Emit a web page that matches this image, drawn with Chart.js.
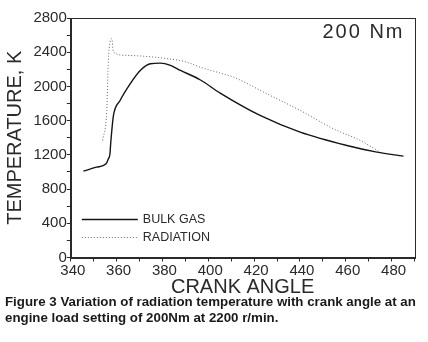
<!DOCTYPE html>
<html>
<head>
<meta charset="utf-8">
<script src="https://cdn.jsdelivr.net/npm/chart.js@4/dist/chart.umd.min.js"></script>
<style>
  html, body { margin: 0; padding: 0; background: #fff; }
  #wrap { position: relative; width: 428px; height: 342px; overflow: hidden; }
  #c { position: absolute; left: 0; top: 0; }
  #cap { position: absolute; left: 5px; top: 294px; width: 423px;
         font-family: "Liberation Sans", Arial, sans-serif; font-weight: bold;
         font-size: 13.3px; line-height: 16px; color: #1a1a1a; white-space: nowrap; }
</style>
</head>
<body>
<div id="wrap">
  <canvas id="c" width="428" height="342"></canvas>
  <div id="cap">Figure 3 Variation of radiation temperature with crank angle at an<br>engine load setting of 200Nm at 2200 r/min.</div>
</div>
<script>
// Data
const bulkAngle = [345.5, 351.2, 355.4, 356.4, 357.1, 357.4, 357.9, 358.6, 361.5, 365.9, 370.3, 374.7, 379.1, 383.5, 387.9, 396.4, 405.2, 422.6, 440.1, 460.5, 473.6, 485.2];
const bulkTemp  = [1009, 1056, 1096, 1154, 1213, 1330, 1485, 1660, 1836, 2031, 2187, 2265, 2273, 2246, 2187, 2078, 1922, 1661, 1466, 1310, 1232, 1185];
const radAngle  = [353.9, 355.7, 356.4, 357.9, 358.6, 364.4, 379.0, 390.6, 396.4, 405.2, 411.0, 425.5, 440.1, 454.6, 466.3, 475.0];
const radTemp   = [1368, 1719, 2304, 2558, 2401, 2363, 2335, 2284, 2226, 2156, 2109, 1915, 1719, 1505, 1368, 1232];
const seriesNames = ['BULK GAS', 'RADIATION'];
const annotationText = '200 Nm';

const toPts = (xs, ys) => xs.map((x, i) => ({ x: x, y: ys[i] }));
const INK = '#2a2a2a';
const FONT = '"Liberation Sans", Arial, sans-serif';

const frame = {
  id: 'frame',
  afterDraw(chart) {
    const { ctx, chartArea: a } = chart;
    ctx.save();
    ctx.strokeStyle = INK;
    ctx.lineWidth = 1;
    ctx.strokeRect(Math.round(a.left) + 0.5, Math.round(a.top) + 0.5,
                   Math.round(a.right - a.left), Math.round(a.bottom - a.top));
    // annotation
    ctx.fillStyle = INK;
    ctx.font = '20px ' + FONT;
    ctx.textAlign = 'right';
    ctx.textBaseline = 'middle';
    ctx.letterSpacing = '2px';
    ctx.fillText(annotationText, a.right - 10, a.top + 14);
    ctx.letterSpacing = '0px';
    // legend
    const ds = chart.data.datasets;
    const x0 = a.left + 11, x1 = a.left + 67;
    const ys = [219, 237];
    ctx.font = '12.5px ' + FONT;
    ctx.textAlign = 'left';
    ds.forEach((d, i) => {
      ctx.beginPath();
      ctx.setLineDash(d.borderDash || []);
      ctx.strokeStyle = d.borderColor;
      ctx.lineWidth = d.borderWidth;
      ctx.moveTo(x0, ys[i] + 0.5);
      ctx.lineTo(x1, ys[i] + 0.5);
      ctx.stroke();
      ctx.setLineDash([]);
      ctx.fillStyle = INK;
      ctx.fillText(d.label, x1 + 5, ys[i] + 0.5);
    });
    ctx.restore();
  }
};

new Chart(document.getElementById('c'), {
  type: 'line',
  data: {
    datasets: [
      { label: seriesNames[0], data: toPts(bulkAngle, bulkTemp), borderColor: '#151515', borderWidth: 1.4,
        pointRadius: 0, cubicInterpolationMode: 'monotone', fill: false },
      { label: seriesNames[1], data: toPts(radAngle, radTemp), borderColor: '#666', borderWidth: 1,
        borderDash: [1, 2], pointRadius: 0, cubicInterpolationMode: 'monotone', fill: false }
    ]
  },
  options: {
    responsive: false,
    animation: false,
    devicePixelRatio: 1,
    layout: { padding: { left: 0, top: 18, right: 13.5, bottom: 43 } },
    plugins: { legend: { display: false }, tooltip: { enabled: false } },
    scales: {
      x: {
        type: 'linear', min: 340, max: 490,
        afterFit: s => { s.height = 41.5; },
        ticks: { stepSize: 10, autoSkip: false, maxRotation: 0, padding: 0, color: INK,
                 font: { family: FONT, size: 15 }, labelOffset: 2,
                 callback: v => (v % 20 === 0 && v < 490) ? String(v) : '' },
        grid: { drawOnChartArea: false, drawTicks: true, tickLength: 4, color: INK },
        border: { display: true, color: INK, width: 1 },
        title: { display: true, text: 'CRANK ANGLE', color: INK, font: { family: FONT, size: 20 },
                 padding: { top: 4, bottom: 0 } }
      },
      y: {
        type: 'linear', min: 0, max: 2800,
        afterFit: s => { s.width = 70.8; },
        ticks: { stepSize: 200, autoSkip: false, padding: 0, color: INK,
                 font: { family: FONT, size: 15 },
                 callback: v => (v % 400 === 0) ? String(v) : '' },
        grid: { drawOnChartArea: false, drawTicks: true, tickLength: 4, color: INK },
        border: { display: true, color: INK, width: 1 },
        title: { display: true, text: 'TEMPERATURE, K', color: INK, font: { family: FONT, size: 20 },
                 padding: { top: 3, bottom: 0 } }
      }
    }
  },
  plugins: [frame]
});
</script>
</body>
</html>
